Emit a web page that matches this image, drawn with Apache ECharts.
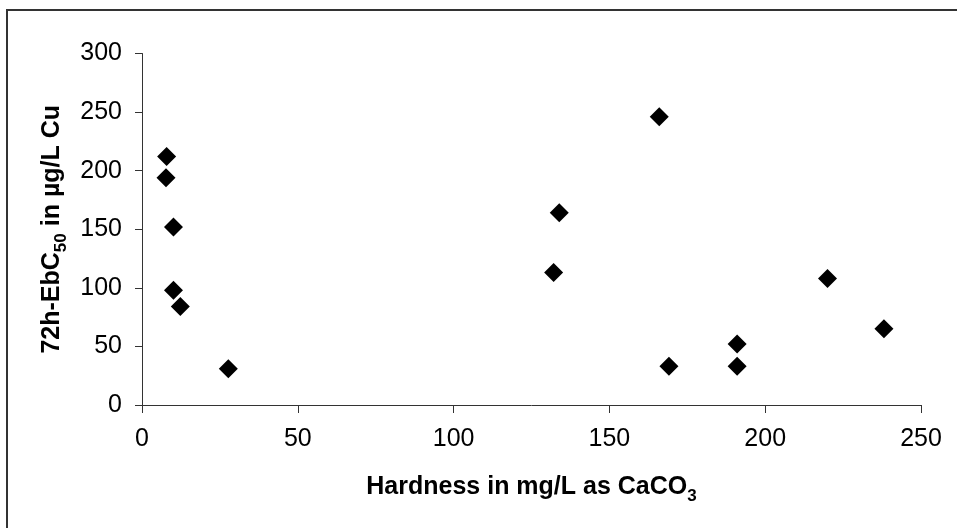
<!DOCTYPE html>
<html>
<head>
<meta charset="utf-8">
<script src="https://cdn.jsdelivr.net/npm/echarts@6/dist/echarts.min.js"></script>
<style>
  html, body { margin: 0; padding: 0; background: #fff; }
  #chart { width: 957px; height: 528px; }
</style>
</head>
<body>
<div id="chart"></div>
<script>
// Water hardness (mg/L as CaCO3) for each test water
const hardness = [7.9, 7.7, 10.1, 10.1, 12.3, 27.7, 166.0, 133.9, 132.1, 191.0, 169.1, 191.0, 220.0, 238.1];
// 72h-EbC50 (µg/L Cu) measured in the same waters
const ebc50 = [212, 194, 152, 98, 84, 31, 246, 164, 113, 52, 33, 33, 108, 65];
const xTicks = [0, 50, 100, 150, 200, 250];
const yTicks = [0, 50, 100, 150, 200, 250, 300];

const points = hardness.map((h, i) => [h, ebc50[i]]);

const font = 'Liberation Sans, Arial, sans-serif';
const axisColor = '#333';

// Main text hangs from the top of the line box, the subscript sits on its
// bottom, so the subscript drops below the main baseline.
const titleRich = {
  m: { fontFamily: font, fontSize: 25, fontWeight: 'bold', color: '#000', lineHeight: 28, verticalAlign: 'top' },
  s: { fontFamily: font, fontSize: 17, fontWeight: 'bold', color: '#000', lineHeight: 30, verticalAlign: 'bottom' }
};

const chart = echarts.init(document.getElementById('chart'), null, { renderer: 'canvas' });
chart.setOption({
  animation: false,
  backgroundColor: '#fff',
  grid: { left: 142, right: 36, top: 53.5, bottom: 123, containLabel: false },
  graphic: [{
    type: 'rect',
    shape: { x: 7, y: 10, width: 1000, height: 600 },
    style: { fill: 'none', stroke: '#333', lineWidth: 2 },
    silent: true
  }],
  xAxis: {
    type: 'value',
    min: xTicks[0],
    max: xTicks[xTicks.length - 1],
    interval: xTicks[1] - xTicks[0],
    splitLine: { show: false },
    axisLine: { show: true, lineStyle: { color: axisColor, width: 1 } },
    axisTick: { show: true, inside: false, length: 8, lineStyle: { color: axisColor } },
    axisLabel: { color: '#000', fontFamily: font, fontSize: 25, margin: 22 },
    name: '{m|Hardness in mg/L as CaCO}{s|3}',
    nameLocation: 'middle',
    nameGap: 70,
    nameTextStyle: { rich: titleRich }
  },
  yAxis: {
    type: 'value',
    min: yTicks[0],
    max: yTicks[yTicks.length - 1],
    interval: yTicks[1] - yTicks[0],
    splitLine: { show: false },
    axisLine: { show: true, lineStyle: { color: axisColor, width: 1 } },
    axisTick: { show: true, inside: false, length: 7, lineStyle: { color: axisColor } },
    axisLabel: { color: '#000', fontFamily: font, fontSize: 25, margin: 20 },
    name: '{m|72h-EbC}{s|50}{m| in µg/L Cu}',
    nameLocation: 'middle',
    nameGap: 70,
    nameTextStyle: { rich: titleRich }
  },
  series: [{
    type: 'scatter',
    data: points,
    symbol: 'diamond',
    symbolSize: 19,
    itemStyle: { color: '#000', opacity: 1 }
  }]
});
</script>
</body>
</html>
